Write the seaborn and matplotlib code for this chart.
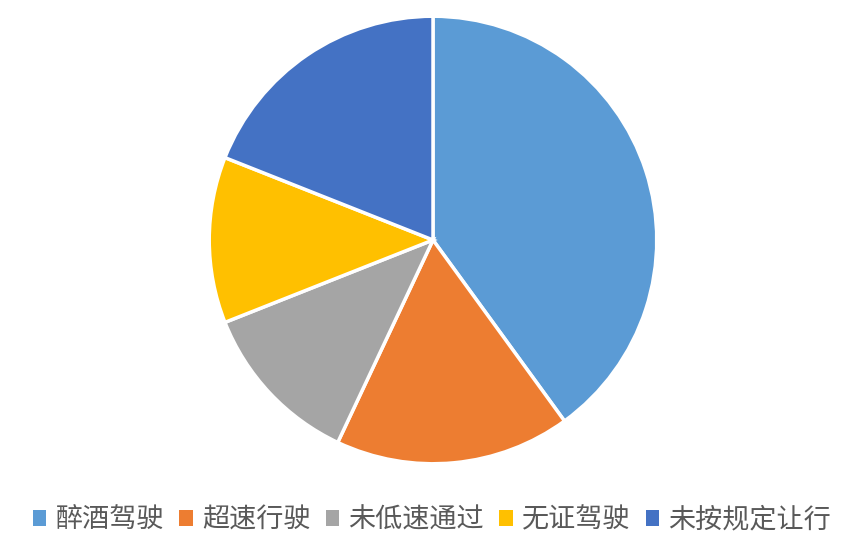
import matplotlib
matplotlib.use("Agg")
import matplotlib.pyplot as plt
import seaborn as sns
from matplotlib.patches import Patch

sns.set_style("white")
plt.rcParams['font.family'] = ['Noto Sans CJK SC', 'DejaVu Sans']

categories = ["醉酒驾驶", "超速行驶", "未低速通过", "无证驾驶", "未按规定让行"]
values = [40, 17, 12, 12, 19]
colors = ["#5B9BD5", "#ED7D31", "#A5A5A5", "#FFC000", "#4472C4"]

W, H = 865, 549
fig = plt.figure(figsize=(W / 100, H / 100), dpi=100)
cx, cy, r = 433, 240, 226
ax = fig.add_axes([(cx - r) / W, (H - cy - r) / H, 2 * r / W, 2 * r / H])
ax.pie(values, colors=colors, startangle=90, counterclock=False, radius=1,
       wedgeprops=dict(edgecolor="white", linewidth=2.5))
ax.set_xlim(-1.01, 1.01)
ax.set_ylim(-1.01, 1.01)
ax.set_aspect("equal")
ax.axis("off")

handles = [Patch(facecolor=c, edgecolor="none") for c in colors]
leg = fig.legend(handles, categories, loc="center", bbox_to_anchor=(432 / W, 1 - 520 / H),
                 ncol=5, frameon=False, fontsize=19.5, handlelength=0.5, handleheight=0.5,
                 handletextpad=0.35, columnspacing=0.55, labelcolor="#595959")

fig.savefig("out.png", dpi=100)
